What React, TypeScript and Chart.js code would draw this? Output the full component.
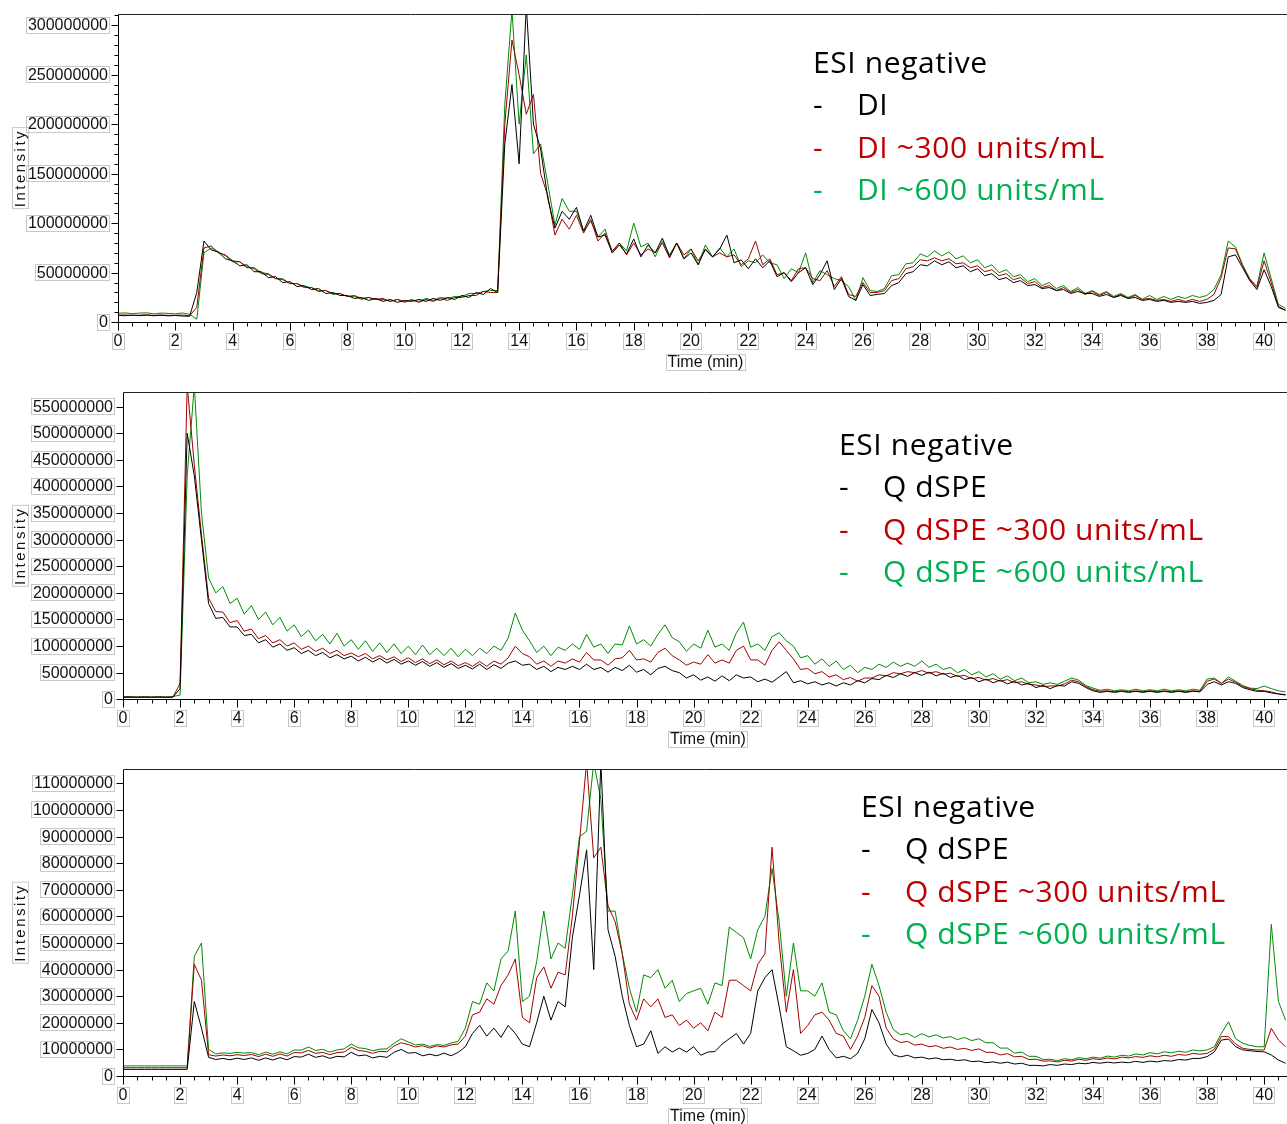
import React, { useEffect, useRef } from 'react';
import { Chart, registerables } from 'chart.js';

Chart.register(...registerables);

// ---------- data (intensity values in millions, sampled every 0.25 min) ----------
const TIME = [
  0, 0.25, 0.5, 0.75, 1, 1.25, 1.5, 1.75,
  2, 2.25, 2.5, 2.75, 3, 3.25, 3.5, 3.75,
  4, 4.25, 4.5, 4.75, 5, 5.25, 5.5, 5.75,
  6, 6.25, 6.5, 6.75, 7, 7.25, 7.5, 7.75,
  8, 8.25, 8.5, 8.75, 9, 9.25, 9.5, 9.75,
  10, 10.25, 10.5, 10.75, 11, 11.25, 11.5, 11.75,
  12, 12.25, 12.5, 12.75, 13, 13.25, 13.5, 13.75,
  14, 14.25, 14.5, 14.75, 15, 15.25, 15.5, 15.75,
  16, 16.25, 16.5, 16.75, 17, 17.25, 17.5, 17.75,
  18, 18.25, 18.5, 18.75, 19, 19.25, 19.5, 19.75,
  20, 20.25, 20.5, 20.75, 21, 21.25, 21.5, 21.75,
  22, 22.25, 22.5, 22.75, 23, 23.25, 23.5, 23.75,
  24, 24.25, 24.5, 24.75, 25, 25.25, 25.5, 25.75,
  26, 26.25, 26.5, 26.75, 27, 27.25, 27.5, 27.75,
  28, 28.25, 28.5, 28.75, 29, 29.25, 29.5, 29.75,
  30, 30.25, 30.5, 30.75, 31, 31.25, 31.5, 31.75,
  32, 32.25, 32.5, 32.75, 33, 33.25, 33.5, 33.75,
  34, 34.25, 34.5, 34.75, 35, 35.25, 35.5, 35.75,
  36, 36.25, 36.5, 36.75, 37, 37.25, 37.5, 37.75,
  38, 38.25, 38.5, 38.75, 39, 39.25, 39.5, 39.75,
  40, 40.25, 40.5, 40.75,
];

// Panel 1: DI
const DI_BLACK = [
  7, 6.5, 7.2, 6.6, 7.2, 6.5, 7.1, 6.4,
  6.8, 6.2, 6, 30, 82, 73, 71, 64,
  62, 57, 58, 51, 51, 45, 46, 40,
  41, 36, 37, 33, 34, 29, 30, 27,
  27, 24, 25, 22, 24, 21, 23, 20,
  22, 21, 23, 21, 24, 22, 25, 23,
  27, 25, 30, 28, 34, 30, 180, 240,
  160, 320, 200, 175, 125, 95, 112, 104,
  116, 92, 108, 86, 88, 70, 78, 69,
  84, 66, 78, 70, 85, 66, 80, 64,
  70, 58, 74, 66, 74, 88, 60, 63,
  54, 64, 55, 62, 46, 50, 41, 50,
  55, 38, 48, 62, 33, 44, 26, 22,
  38, 27, 28, 29, 37, 40, 49, 51,
  58, 57, 62, 58, 61, 55, 57, 51,
  54, 47, 49, 43, 45, 40, 42, 37,
  38, 34, 35, 32, 33, 29, 31, 29,
  29, 26, 28, 25, 27, 24, 25, 22,
  23, 21, 22, 20, 21, 20, 21, 19,
  20, 22, 28, 66, 68, 55, 42, 33,
  53, 36, 15, 12,
];
const DI_300 = [
  7, 7.4, 6.7, 7.1, 7.4, 6.8, 7.2, 6.9,
  7, 7.2, 6.5, 15, 75, 77, 70, 68,
  62, 61, 55, 55, 50, 49, 44, 43,
  39, 39, 35, 35, 31, 32, 29, 29,
  26, 27, 24, 25, 23, 24, 21, 23,
  20, 23, 20, 23, 21, 24, 22, 25,
  25, 27, 27, 31, 30, 30, 200, 285,
  250, 210, 230, 150, 128, 88, 104, 94,
  108, 90, 104, 82, 90, 72, 80, 68,
  80, 68, 74, 70, 80, 65, 80, 68,
  74, 62, 73, 66, 70, 66, 68, 58,
  64, 82, 58, 64, 48, 50, 42, 54,
  55, 44, 42, 52, 36, 46, 28, 26,
  40, 30, 30, 32, 42, 44, 54, 56,
  63, 62, 65, 62, 64, 59, 60, 55,
  57, 51, 53, 47, 49, 43, 45, 39,
  41, 35, 37, 32, 35, 30, 33, 28,
  31, 27, 30, 25, 28, 24, 27, 23,
  24, 22, 23, 21, 23, 21, 23, 21,
  23, 28, 45, 75, 74, 57, 43, 35,
  62, 40, 16, 12,
];
const DI_600 = [
  9, 9.4, 8.6, 9.2, 9.5, 8.4, 9.2, 8.9,
  8.5, 9.3, 8, 3, 70, 75, 71, 67,
  61, 61, 56, 54, 49, 48, 44, 44,
  39, 39, 36, 35, 32, 32, 28, 29,
  26, 26, 23, 25, 23, 23, 21, 23,
  21, 22, 21, 24, 22, 25, 24, 26,
  26, 29, 29, 31, 32, 32, 220, 315,
  200, 270, 170, 180, 140, 98, 125, 112,
  112, 92, 102, 86, 94, 70, 80, 72,
  100, 76, 80, 66, 82, 68, 80, 64,
  74, 58, 78, 66, 75, 66, 74, 56,
  62, 60, 68, 60, 58, 44, 54, 50,
  70, 40, 52, 48, 44, 42, 36, 22,
  45, 32, 31, 34, 47, 48, 59, 60,
  69, 66, 72, 67, 71, 64, 67, 60,
  63, 55, 58, 50, 53, 46, 48, 41,
  44, 37, 40, 34, 37, 31, 35, 29,
  32, 28, 31, 26, 29, 25, 28, 23,
  27, 23, 26, 23, 26, 24, 27, 25,
  27, 33, 48, 82, 76, 58, 44, 36,
  70, 44, 18, 14,
];

// Panel 2: Q dSPE (first set)
const QA_BLACK = [
  4, 4, 4, 4, 4, 4, 4, 4,
  20, 500, 420, 300, 180, 152, 154, 136,
  136, 120, 122, 106, 112, 98, 104, 92,
  97, 86, 92, 82, 88, 78, 84, 76,
  81, 72, 79, 70, 77, 68, 75, 66,
  72, 64, 71, 62, 69, 60, 67, 58,
  64, 57, 66, 56, 65, 58, 68, 72,
  64, 66, 56, 62, 52, 60, 56, 62,
  56, 66, 56, 60, 51, 60, 54, 64,
  51, 56, 46, 58, 62, 54, 50, 40,
  46, 36, 42, 34, 44, 35, 46, 40,
  42, 33, 38, 32, 42, 52, 31, 35,
  29, 33, 27, 31, 25, 31, 27, 35,
  31, 39, 37, 45, 41, 48, 43, 50,
  45, 51, 44, 49, 41, 45, 37, 41,
  33, 38, 31, 36, 29, 34, 27, 30,
  22, 26, 20, 26, 25, 33, 30, 22,
  16, 13, 15, 13, 15, 13, 15, 13,
  15, 13, 15, 13, 15, 13, 15, 14,
  28, 33, 27, 33, 30, 22, 18, 15,
  15, 12, 10, 8,
];
const QA_300 = [
  4, 4, 4, 4, 4, 4, 4, 4,
  30, 590, 440, 310, 190, 165, 164, 144,
  148, 128, 132, 114, 120, 106, 112, 100,
  106, 94, 100, 90, 96, 86, 92, 82,
  87, 80, 86, 76, 82, 74, 80, 71,
  78, 69, 76, 67, 74, 65, 72, 63,
  69, 62, 71, 62, 72, 66, 78, 100,
  86, 80, 66, 72, 62, 72, 68, 76,
  70, 88, 74, 74, 64, 76, 78, 92,
  74, 76, 70, 88, 96, 82, 74, 64,
  70, 66, 84, 68, 74, 68, 92, 100,
  74, 74, 64, 92, 108, 92, 76, 56,
  58, 48, 52, 42, 46, 37, 41, 34,
  40, 40, 46, 44, 50, 48, 52, 50,
  54, 49, 52, 47, 49, 43, 45, 39,
  41, 36, 39, 34, 37, 31, 33, 28,
  27, 24, 25, 25, 29, 36, 33, 24,
  18, 15, 16, 14, 16, 14, 16, 14,
  16, 14, 16, 14, 16, 14, 16, 15,
  34, 38, 30, 38, 32, 24, 20, 17,
  16, 14, 10, 9,
];
const QA_600 = [
  5, 5, 4, 5, 4, 5, 4, 5,
  8, 420, 590, 350, 228, 200, 212, 180,
  190, 160, 176, 150, 164, 140, 154, 128,
  140, 118, 130, 110, 122, 104, 124, 100,
  112, 94, 110, 90, 106, 88, 104, 86,
  100, 84, 102, 84, 96, 82, 96, 80,
  94, 82, 96, 86, 100, 92, 115, 162,
  130, 110, 88, 100, 82, 98, 92, 104,
  94, 122, 98, 104, 86, 104, 102, 138,
  104, 112, 100, 122, 140, 116, 108, 90,
  104, 96, 130, 98, 104, 92, 125, 145,
  98, 104, 92, 118, 125, 110, 100, 78,
  82, 66, 76, 62, 72, 56, 64, 50,
  60, 56, 66, 60, 70, 62, 68, 62,
  72, 60, 66, 56, 60, 50, 56, 46,
  52, 42, 48, 38, 44, 35, 40, 31,
  33, 28, 31, 28, 34, 40, 36, 26,
  21, 17, 19, 16, 18, 16, 19, 16,
  18, 16, 19, 16, 18, 16, 19, 17,
  38, 40, 30, 42, 34, 26, 21, 20,
  25, 20, 16, 14,
];

// Panel 3: Q dSPE (second set)
const QB_BLACK = [
  2.5, 2.5, 2.5, 2.5, 2.5, 2.5, 2.5, 2.5,
  2.5, 2.5, 28, 18, 7, 6.2, 6.6, 6.1,
  6.7, 6.2, 6.8, 5.9, 6.8, 6, 6.9, 6.1,
  7.3, 7.1, 8.2, 7, 7.6, 6.6, 7.4, 7.2,
  8.9, 7.6, 7.9, 6.8, 7.4, 7, 8.9, 10,
  8.6, 8.8, 7.6, 8.2, 7.6, 8.6, 7.6, 8.9,
  11, 16, 19, 15, 18, 14.5, 19, 16,
  12, 11, 20, 30, 21, 28, 26, 52,
  68, 85, 40, 118, 55, 45, 30, 19,
  11, 12, 17, 8.5, 11, 9, 10.5, 9,
  11, 7.8, 9, 9.2, 12, 14, 16, 12,
  16, 32, 37, 40, 26, 11, 9.5, 7.8,
  8.5, 10, 15, 10, 6.8, 7.4, 6.5, 8.5,
  14, 25, 20, 12, 8, 7.2, 7.8, 6.8,
  7.1, 6.4, 6.8, 6.1, 6.3, 5.8, 6.1, 5.4,
  5.6, 5, 5.3, 4.8, 5.2, 4.5, 4.8, 4,
  4, 3.8, 4.3, 4, 4.5, 4.3, 4.8, 4.6,
  5.1, 4.8, 5.2, 4.9, 5.2, 5, 5.5, 5.1,
  5.6, 5.3, 5.8, 5.6, 6.2, 6, 6.6, 6.6,
  7.3, 9, 13.5, 13.9, 11, 9.8, 9.5, 9.2,
  9.1, 7.9, 6, 4.8,
];
const QB_300 = [
  3.1, 3.1, 3.1, 3.1, 3.1, 3.1, 3.1, 3.1,
  3.1, 3.1, 42, 36, 8, 7.5, 7.9, 7.6,
  8, 7.7, 8.1, 7.3, 8.2, 7.4, 8.3, 7.5,
  8.8, 8.7, 9.6, 8.5, 8.9, 8, 8.8, 9,
  10.8, 9.6, 9.3, 8.5, 9.3, 9.1, 11.3, 12.5,
  11.8, 10.9, 11.4, 10.5, 11.3, 10.9, 11.7, 12,
  15, 23, 24, 29, 27, 34, 38, 44,
  22, 20, 37, 41, 33, 39, 38, 60,
  88, 118, 82, 86, 64, 58, 46, 27,
  21, 29, 26, 29, 22, 23, 19, 21,
  18, 20, 17, 24, 22, 36, 36, 34,
  32, 42, 46, 86, 50, 24, 40, 16,
  19, 23, 24, 21, 16, 15, 10, 15,
  22, 34, 30, 18, 14, 12.6, 13, 11.6,
  12, 11, 11.4, 10.4, 10.9, 10, 10.4, 9.6,
  10.2, 8.9, 8.9, 7.9, 8.4, 7.2, 7.4, 6.2,
  6.3, 5.6, 5.7, 5.3, 5.9, 5.6, 6.3, 5.9,
  6.5, 6.2, 6.8, 6.4, 7.1, 6.8, 7.3, 7,
  7.6, 7.2, 7.8, 7.4, 8.1, 7.8, 8.5, 8.2,
  8.5, 10, 14.8, 14.8, 12, 10.4, 10, 9.8,
  9.8, 17.9, 13.5, 11,
];
const QB_600 = [
  3.8, 3.8, 3.8, 3.8, 3.8, 3.8, 3.8, 3.8,
  3.8, 3.8, 45, 50, 10, 8.3, 8.7, 8.5,
  8.9, 8.6, 8.8, 8, 9, 8.2, 9.1, 8.3,
  9.8, 9.7, 10.9, 9.6, 10, 9, 9.8, 10.2,
  12, 10.6, 10.3, 9.5, 10.1, 10.2, 12.3, 14,
  12.8, 11.7, 12, 11.1, 11.8, 11.5, 12.4, 13,
  18, 28, 27, 35, 32, 44, 47, 62,
  28, 30, 43, 62, 44, 50, 48, 68,
  90, 92, 118, 104, 62, 62, 46, 33,
  24, 38, 37, 40, 33, 36, 28, 31,
  32, 33, 27, 35, 34, 56, 54, 52,
  44, 55, 60, 78, 58, 30, 50, 32,
  32, 30, 35, 24, 23, 17, 14, 21,
  30, 42, 34, 24, 17.5, 15.5, 16, 14.5,
  15.9, 14.7, 15.5, 14.3, 14.8, 13.7, 14.5, 13.3,
  14, 12.5, 12.5, 10.5, 10.5, 8.6, 9, 7.4,
  7.4, 6.2, 6.3, 5.8, 6.5, 6.1, 6.9, 6.5,
  7.1, 6.7, 7.5, 7.1, 7.8, 7.5, 8.3, 7.9,
  8.8, 8.3, 9.1, 8.7, 9.3, 8.9, 9.8, 9.4,
  9.8, 11, 16, 20.4, 14, 12.3, 11.5, 11,
  11, 57, 28, 21,
];

// ---------- axes ----------
const X_TICKS = [0, 2, 4, 6, 8, 10, 12, 14, 16, 18, 20, 22, 24, 26, 28, 30, 32, 34, 36, 38, 40];
const X_TICK_LABELS = ['0', '2', '4', '6', '8', '10', '12', '14', '16', '18', '20', '22', '24', '26', '28', '30', '32', '34', '36', '38', '40'];
const X_MINOR_STEP = 0.5;
const X_MAX = 40.8;
const X_TITLE = 'Time (min)';
const Y_TITLE = 'Intensity';

const P1_Y_TICKS = [0, 50000000, 100000000, 150000000, 200000000, 250000000, 300000000];
const P1_Y_LABELS = ['0', '50000000', '100000000', '150000000', '200000000', '250000000', '300000000'];
const P2_Y_TICKS = [0, 50000000, 100000000, 150000000, 200000000, 250000000, 300000000, 350000000, 400000000, 450000000, 500000000, 550000000];
const P2_Y_LABELS = ['0', '50000000', '100000000', '150000000', '200000000', '250000000', '300000000', '350000000', '400000000', '450000000', '500000000', '550000000'];
const P3_Y_TICKS = [0, 10000000, 20000000, 30000000, 40000000, 50000000, 60000000, 70000000, 80000000, 90000000, 100000000, 110000000];
const P3_Y_LABELS = ['0', '10000000', '20000000', '30000000', '40000000', '50000000', '60000000', '70000000', '80000000', '90000000', '100000000', '110000000'];

const LEGEND_TITLE = 'ESI negative';
const P1_LEGEND = ['DI', 'DI ~300 units/mL', 'DI ~600 units/mL'];
const P23_LEGEND = ['Q dSPE', 'Q dSPE ~300 units/mL', 'Q dSPE ~600 units/mL'];

const LINE_COLORS = ['#000000', '#a00000', '#008a00'];
const TEXT_COLORS = ['#000000', '#c00000', '#00b050'];
const MILLION = 1000000;

type Panel = {
  top: number;
  height: number;
  left: number;
  plotTop: number;
  plotBottom: number;
  yMax: number;
  yTicks: number[];
  yLabels: string[];
  yMinor: number | null;
  series: number[][];
  legend: string[];
  legendX: number;
  legendTextX: number;
  legendBase: number;
};

const PANELS: Panel[] = [
  {
    top: 0, height: 378, left: 118, plotTop: 14, plotBottom: 322.2, yMax: 311300000,
    yTicks: P1_Y_TICKS, yLabels: P1_Y_LABELS, yMinor: 10000000,
    series: [DI_BLACK, DI_300, DI_600], legend: P1_LEGEND,
    legendX: 813, legendTextX: 857, legendBase: 72.5,
  },
  {
    top: 378, height: 378, left: 123, plotTop: 392.3, plotBottom: 699.3, yMax: 577000000,
    yTicks: P2_Y_TICKS, yLabels: P2_Y_LABELS, yMinor: null,
    series: [QA_BLACK, QA_300, QA_600], legend: P23_LEGEND,
    legendX: 839, legendTextX: 883, legendBase: 454.5,
  },
  {
    top: 756, height: 368, left: 123, plotTop: 769.3, plotBottom: 1076, yMax: 115300000,
    yTicks: P3_Y_TICKS, yLabels: P3_Y_LABELS, yMinor: null,
    series: [QB_BLACK, QB_300, QB_600], legend: P23_LEGEND,
    legendX: 861, legendTextX: 905, legendBase: 816.5,
  },
];

const TICK_FONT = '16px "Liberation Sans", Arial, sans-serif';
const LEGEND_FONT = '30px "Open Sans", "Noto Sans", sans-serif';

function boxedText(ctx: CanvasRenderingContext2D, text: string, x: number, y: number, align: 'left' | 'center' | 'right') {
  const w = ctx.measureText(text).width;
  const left = align === 'right' ? x - w : align === 'center' ? x - w / 2 : x;
  ctx.strokeStyle = '#c8c8c8';
  ctx.lineWidth = 1;
  ctx.strokeRect(Math.round(left - 2) + 0.5, Math.round(y - 8.5) + 0.5, Math.round(w + 3), 16);
  ctx.fillStyle = '#111';
  ctx.textAlign = 'left';
  ctx.textBaseline = 'middle';
  ctx.fillText(text, left, y + 0.5);
}

function makePlugin(p: Panel) {
  return {
    id: 'chromAxes',
    afterDraw(chart: any) {
      const ctx: CanvasRenderingContext2D = chart.ctx;
      const a = chart.chartArea;
      const xs = chart.scales.x;
      const ys = chart.scales.y;
      const L = Math.round(a.left) + 0.5;
      const B = Math.round(a.bottom) + 0.5;
      const T = Math.round(a.top) + 0.5;
      const R = a.right;
      ctx.save();
      ctx.lineWidth = 1;
      ctx.strokeStyle = '#222';
      ctx.beginPath();
      ctx.moveTo(L, T);
      ctx.lineTo(R, T);
      ctx.stroke();
      ctx.strokeStyle = '#000';
      ctx.beginPath();
      ctx.moveTo(L, T);
      ctx.lineTo(L, B);
      ctx.lineTo(R, B);
      ctx.stroke();

      // x ticks
      ctx.beginPath();
      for (let v = 0; v <= X_MAX; v += X_MINOR_STEP) {
        const px = Math.round(xs.getPixelForValue(v)) + 0.5;
        ctx.moveTo(px, B);
        ctx.lineTo(px, B + 4);
      }
      X_TICKS.forEach((v) => {
        const px = Math.round(xs.getPixelForValue(v)) + 0.5;
        ctx.moveTo(px, B);
        ctx.lineTo(px, B + 8);
      });
      // y ticks
      if (p.yMinor) {
        for (let v = 0; v <= p.yMax; v += p.yMinor) {
          const py = Math.round(ys.getPixelForValue(v)) + 0.5;
          ctx.moveTo(L - 4, py);
          ctx.lineTo(L, py);
        }
      }
      p.yTicks.forEach((v) => {
        const py = Math.round(ys.getPixelForValue(v)) + 0.5;
        ctx.moveTo(L - 7, py);
        ctx.lineTo(L, py);
      });
      ctx.stroke();

      ctx.font = TICK_FONT;
      X_TICKS.forEach((v, i) => {
        boxedText(ctx, X_TICK_LABELS[i], xs.getPixelForValue(v), B + 19, 'center');
      });
      p.yTicks.forEach((v, i) => {
        boxedText(ctx, p.yLabels[i], a.left - 10, ys.getPixelForValue(v), 'right');
      });
      boxedText(ctx, X_TITLE, (a.left + a.right) / 2 + 3, B + 40, 'center');

      // y title (rotated, letter-spaced)
      ctx.save();
      ctx.translate(20, (a.top + a.bottom) / 2);
      ctx.rotate(-Math.PI / 2);
      ctx.font = '15px "Liberation Sans", Arial, sans-serif';
      (ctx as any).letterSpacing = '2.5px';
      boxedText(ctx, Y_TITLE, 0, 0, 'center');
      ctx.restore();

      // legend text block
      ctx.font = LEGEND_FONT;
      (ctx as any).letterSpacing = '0.6px';
      ctx.textAlign = 'left';
      ctx.textBaseline = 'alphabetic';
      const topLocal = p.legendBase - p.top;
      ctx.fillStyle = '#000';
      ctx.fillText(LEGEND_TITLE, p.legendX, topLocal);
      p.legend.forEach((label, i) => {
        const yb = topLocal + 42.5 * (i + 1);
        ctx.fillStyle = TEXT_COLORS[i];
        ctx.fillText('-', p.legendX, yb);
        ctx.fillText(label, p.legendTextX, yb);
      });
      ctx.restore();
    },
  };
}

function ChromPanel({ p }: { p: Panel }) {
  const ref = useRef<HTMLCanvasElement>(null);
  useEffect(() => {
    const canvas = ref.current;
    if (!canvas) return;
    const plotTopLocal = p.plotTop - p.top;
    const plotBottomLocal = p.plotBottom - p.top;
    const xAxisHeight = p.height - plotBottomLocal;
    const datasets = p.series.map((vals, si) => ({
      label: String(si),
      data: TIME.map((t, k) => ({ x: t, y: vals[k] * MILLION })),
      borderColor: LINE_COLORS[si],
      backgroundColor: LINE_COLORS[si],
      borderWidth: 1,
      pointRadius: 0,
      tension: 0,
      fill: false,
      order: si,
    }));
    const chart = new Chart(canvas, {
      type: 'line',
      data: { datasets },
      options: {
        animation: false,
        responsive: false,
        devicePixelRatio: 1,
        events: [],
        layout: { padding: { top: plotTopLocal, left: 0, right: 0, bottom: 0 } },
        plugins: { legend: { display: false }, tooltip: { enabled: false } },
        scales: {
          x: {
            type: 'linear', min: 0, max: X_MAX,
            ticks: { display: false }, grid: { display: false }, border: { display: false },
            afterFit: (s: any) => { s.height = xAxisHeight; },
          },
          y: {
            type: 'linear', min: 0, max: p.yMax,
            ticks: { display: false }, grid: { display: false }, border: { display: false },
            afterFit: (s: any) => { s.width = p.left; },
          },
        },
      } as any,
      plugins: [makePlugin(p)],
    });
    return () => chart.destroy();
  }, [p]);
  return (
    <canvas
      ref={ref}
      width={1287}
      height={p.height}
      style={{ position: 'absolute', left: 0, top: p.top, width: 1287, height: p.height, display: 'block' }}
    />
  );
}

export default function App() {
  return (
    <div style={{ position: 'absolute', left: 0, top: 0, width: 1287, height: 1124, background: '#fff', overflow: 'hidden' }}>
      {PANELS.map((p, i) => (
        <ChromPanel key={i} p={p} />
      ))}
    </div>
  );
}
